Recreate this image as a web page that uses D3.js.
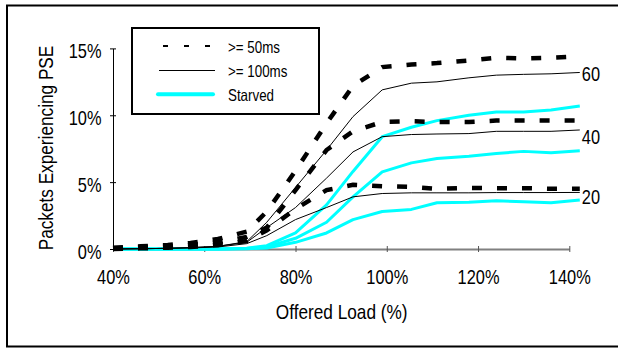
<!DOCTYPE html>
<html>
<head>
<meta charset="utf-8">
<script src="https://cdn.jsdelivr.net/npm/d3@7"></script>
<style>
  html, body { margin: 0; padding: 0; background: #fff; }
  svg { display: block; }
  text { font-family: "Liberation Sans", Arial, sans-serif; fill: #000; }
</style>
</head>
<body>
<svg id="chart" width="618" height="348"></svg>
<script>
// ---- data ----
const load = [40, 46, 52, 57, 63, 69.3, 73.7, 80, 86.8, 92.6, 99, 105.4, 111, 118, 124, 130, 136, 142.3];

const ge50_60  = [0.1, 0.2, 0.3, 0.45, 0.75, 1.3, 2.8, 5.85, 9.4, 12.2, 13.6, 13.8, 13.9, 14.1, 14.3, 14.25, 14.3, 14.4];
const ge50_40  = [0.05, 0.12, 0.2, 0.3, 0.5, 0.9, 1.6, 4.4, 7.4, 8.8, 9.5, 9.55, 9.5, 9.5, 9.6, 9.6, 9.6, 9.6];
const ge50_20  = [0.0, 0.05, 0.1, 0.15, 0.3, 0.6, 1.4, 3.0, 4.4, 4.8, 4.7, 4.65, 4.5, 4.57, 4.55, 4.55, 4.5, 4.5];

const ge100_60 = [0, 0.02, 0.05, 0.1, 0.2, 0.55, 2.0, 4.6, 7.4, 9.9, 11.9, 12.4, 12.5, 12.8, 13.0, 13.06, 13.1, 13.2];
const ge100_40 = [0, 0.02, 0.05, 0.1, 0.2, 0.5, 1.6, 3.1, 5.3, 7.26, 8.4, 8.56, 8.6, 8.63, 8.8, 8.8, 8.8, 8.9];
const ge100_20 = [0, 0.02, 0.05, 0.08, 0.15, 0.4, 1.0, 2.2, 3.1, 3.9, 4.15, 4.2, 4.2, 4.2, 4.22, 4.22, 4.22, 4.23];

const starved_60 = [0, 0, 0, 0, 0, 0.05, 0.25, 1.2, 3.3, 5.8, 8.4, 9.1, 9.6, 10.0, 10.25, 10.25, 10.4, 10.7];
const starved_40 = [0, 0, 0, 0, 0, 0.03, 0.15, 0.8, 2.0, 3.9, 5.77, 6.44, 6.77, 6.94, 7.14, 7.3, 7.2, 7.34];
const starved_20 = [0, 0, 0, 0, 0, 0.02, 0.08, 0.5, 1.2, 2.2, 2.8, 2.96, 3.46, 3.5, 3.6, 3.53, 3.46, 3.66];

const xTicks = [40, 60, 80, 100, 120, 140];
const yTicks = [0, 5, 10, 15];
const endLabels = ["60", "40", "20"];
const endLabelValues = [13.15, 8.38, 3.96];
const legendLabels = [">= 50ms", ">= 100ms", "Starved"];
const xTitle = "Offered Load (%)";
const yTitle = "Packets Experiencing PSE";

// ---- drawing ----
const NARROW = 0.82; // emulate a narrow sans face
const svg = d3.select("#chart");
const x = d3.scaleLinear().domain([40, 140]).range([113, 569.3]);
const y = d3.scaleLinear().domain([0, 15]).range([249, 48.4]);

// outer frame (left, top, bottom)
svg.append("path")
  .attr("d", "M618,5.5 H7 V346.5 H618")
  .attr("fill", "none").attr("stroke", "#000").attr("stroke-width", 2);

// x axis (gray)
const xAxis = svg.append("g").attr("transform", `translate(0,${y(0)})`)
  .call(d3.axisBottom(x).tickValues(xTicks).tickFormat(d => d + "%").tickSizeInner(3).tickSizeOuter(0).tickPadding(0));
xAxis.select(".domain").attr("stroke", "#808080").attr("stroke-width", 2);
xAxis.selectAll(".tick line").attr("stroke", "#555").attr("y1", -3).attr("y2", 3).attr("stroke-width", 1);
xAxis.selectAll(".tick text").attr("x", 0).attr("y", 35).attr("dy", null)
  .attr("font-size", 20).attr("font-family", null).attr("transform", `scale(${NARROW},1)`);

// y axis (black)
const yAxis = svg.append("g").attr("transform", `translate(${x(40)},0)`)
  .call(d3.axisLeft(y).tickValues(yTicks).tickFormat(d => d + "%").tickSizeInner(3).tickSizeOuter(0).tickPadding(0));
yAxis.select(".domain").attr("stroke", "#000").attr("stroke-width", 1);
yAxis.selectAll(".tick line").attr("stroke", "#000").attr("x1", -3).attr("x2", 3);
yAxis.selectAll(".tick text").attr("x", -11.5 / NARROW).attr("dy", 9)
  .attr("font-size", 20).attr("font-family", null).attr("transform", `scale(${NARROW},1)`);

const line = d3.line().x((d, i) => x(load[i])).y(d => y(d));

// starved (cyan)
[starved_60, starved_40, starved_20].forEach(s => {
  svg.append("path").datum(s).attr("d", line)
    .attr("fill", "none").attr("stroke", "#00ffff").attr("stroke-width", 3)
    .attr("stroke-linejoin", "round");
});
// >= 100ms (thin black)
[ge100_60, ge100_40, ge100_20].forEach(s => {
  svg.append("path").datum(s).attr("d", line)
    .attr("fill", "none").attr("stroke", "#000").attr("stroke-width", 1);
});
// >= 50ms (thick dashed black)
[ge50_60, ge50_40, ge50_20].forEach(s => {
  svg.append("path").datum(s).attr("d", line)
    .attr("fill", "none").attr("stroke", "#000").attr("stroke-width", 4.5)
    .attr("stroke-dasharray", "10 15");
});

function narrowText(parent, tx, ty, str, size, anchor, rot) {
  return parent.append("text")
    .attr("transform", `translate(${tx},${ty})${rot ? " rotate(" + rot + ")" : ""} scale(${NARROW},1)`)
    .attr("text-anchor", anchor || "start")
    .attr("font-size", size)
    .text(str);
}

// end labels
endLabels.forEach((d, i) => {
  narrowText(svg, x(load[load.length - 1]) + 2, y(endLabelValues[i]) + 7.5, d, 20);
});

// legend
const lg = svg.append("g");
lg.append("rect").attr("x", 132).attr("y", 28).attr("width", 187).attr("height", 86)
  .attr("fill", "#fff").attr("stroke", "#000").attr("stroke-width", 2);
lg.append("line").attr("x1", 163).attr("x2", 210).attr("y1", 46).attr("y2", 46)
  .attr("stroke", "#000").attr("stroke-width", 2).attr("stroke-dasharray", "5 16");
lg.append("line").attr("x1", 159).attr("x2", 215).attr("y1", 70.5).attr("y2", 70.5)
  .attr("stroke", "#000").attr("stroke-width", 1);
lg.append("line").attr("x1", 158).attr("x2", 213).attr("y1", 94.3).attr("y2", 94.3)
  .attr("stroke", "#00ffff").attr("stroke-width", 4).attr("stroke-linecap", "round");
legendLabels.forEach((d, i) => {
  narrowText(lg, 228, 53.3 + i * 23.9, d, 16.3);
});

// axis titles
narrowText(svg, 341.7, 319, xTitle, 21, "middle");
narrowText(svg, 53, 148, yTitle, 21, "middle", -90);
</script>
</body>
</html>
